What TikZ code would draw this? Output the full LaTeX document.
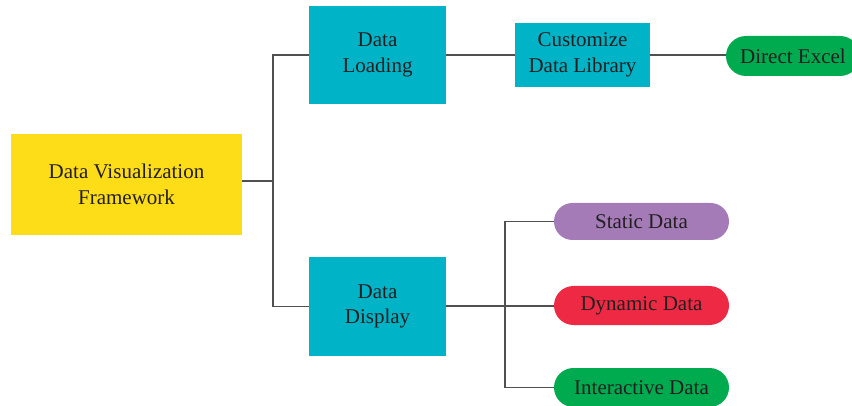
\documentclass[tikz,border=0pt]{standalone}
\usepackage{fontspec}
\setmainfont{Liberation Serif}
\definecolor{yel}{HTML}{FDDC18}
\definecolor{teal}{HTML}{00B3C6}
\definecolor{purp}{HTML}{A47BB7}
\definecolor{redd}{HTML}{EE2944}
\definecolor{grn}{HTML}{00AA4E}
\definecolor{txt}{HTML}{231F20}
\definecolor{ln}{HTML}{505050}
\tikzset{
  box/.style={rectangle, inner sep=0pt, align=center, text=txt,
    font=\fontsize{21}{25.5}\selectfont},
  pill/.style={rectangle, rounded corners=19.5pt, inner sep=0pt, align=center,
    text=txt, minimum height=39pt, font=\fontsize{21}{25}\selectfont},
  conn/.style={draw=ln, line width=1.4pt}
}
\begin{document}
\begin{tikzpicture}[x=1pt,y=-1pt]
\useasboundingbox (0,0) rectangle (852,406);
\clip (0,0) rectangle (852,406);
\node[box, fill=yel, minimum width=231pt, minimum height=101pt] (fw) at (126.5,184.5) {Data Visualization\\Framework};
\node[box, fill=teal, minimum width=137pt, minimum height=98pt] (dl) at (377.5,55) {Data\\Loading};
\node[box, fill=teal, minimum width=137pt, minimum height=99pt] (dd) at (377.5,306.5) {Data\\Display};
\node[box, fill=teal, minimum width=135pt, minimum height=64pt] (cdl) at (582.5,55) {Customize\\Data Library};
\node[pill, fill=grn, minimum width=134pt, minimum height=40pt, rounded corners=20pt] (de) at (793,56) {Direct Excel};
\node[pill, fill=purp, minimum width=175pt, minimum height=37pt, rounded corners=18.5pt] (sd) at (641.5,221.5) {Static Data};
\node[pill, fill=redd, minimum width=175pt] (dyd) at (641.5,305.5) {Dynamic Data};
\node[pill, fill=grn, minimum width=175pt] (id) at (641.5,387.5) {Interactive Data};
\coordinate (j1) at (273,181);
\coordinate (j2) at (505,306);
\draw[conn] (fw.east |- j1) -- (j1);
\draw[conn] (dl.west) -| (j1) |- (dd.west);
\draw[conn] (dl.east) -- (cdl.west);
\draw[conn] (cdl.east) -- (de.west |- cdl.east);
\draw[conn] (dd.east |- j2) -- (j2) -- (dyd.west |- j2);
\draw[conn] (sd.west) -| (j2) |- (id.west);
\end{tikzpicture}
\end{document}
